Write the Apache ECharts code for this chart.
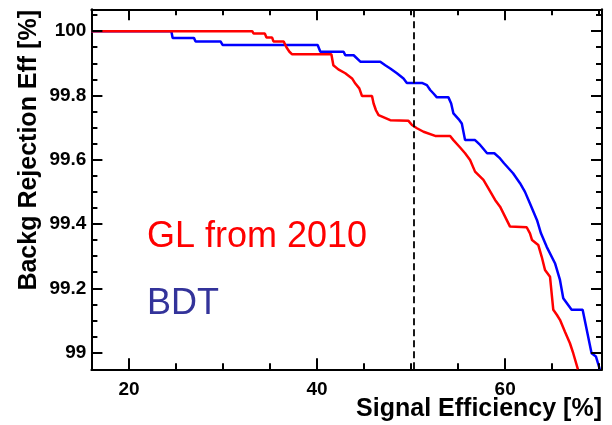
<!DOCTYPE html>
<html>
<head>
<meta charset="utf-8">
<script src="https://cdn.jsdelivr.net/npm/echarts@6/dist/echarts.min.js"></script>
<style>
  html, body { margin: 0; padding: 0; background: #fff; }
  #chart { width: 612px; height: 425px; }
</style>
</head>
<body>
<div id="chart"></div>
<script>
// Signal efficiency (%) vs background rejection efficiency (%) for two classifiers
const bdtX = [16, 24.50, 24.64, 26.90, 27.08, 29.73, 29.95, 40.06, 40.35, 42.82, 43.00, 43.89, 44.60, 46.72,
  47.25, 47.78, 48.49, 49.19, 49.55, 51.15, 51.68, 52.03, 52.38, 52.74, 53.97, 54.26, 54.50, 55.14, 55.39,
  55.74, 56.80, 57.34, 58.08, 58.85, 59.46, 59.88, 60.84, 61.58, 62.11, 62.64, 63.39, 63.81, 64.42, 65.30,
  65.83, 66.18, 67.07, 68.24, 69.19, 69.65, 70.07];
const bdtY = [100, 100, 99.979, 99.979, 99.968, 99.968, 99.957, 99.957, 99.936, 99.936, 99.925, 99.925, 99.905, 99.905,
  99.894, 99.884, 99.869, 99.853, 99.839, 99.839, 99.832, 99.817, 99.806, 99.794, 99.794, 99.775, 99.744, 99.723, 99.713,
  99.661, 99.661, 99.646, 99.620, 99.620, 99.604, 99.589, 99.558, 99.527, 99.500, 99.464, 99.412, 99.371, 99.329, 99.278,
  99.226, 99.169, 99.133, 99.133, 98.998, 98.988, 98.948];

const glX = [16, 33.10, 33.24, 34.44, 34.62, 35.22, 35.36, 36.45, 36.74, 37.06, 37.35, 41.52, 41.73, 42.26, 43.00,
  43.72, 44.07, 44.49, 44.78, 45.84, 46.01, 46.26, 46.54, 47.78, 49.72, 50.09, 50.62, 51.32, 52.56, 54.15, 54.50,
  55.21, 55.74, 56.27, 56.80, 57.69, 58.22, 58.93, 59.46, 59.99, 60.52, 62.29, 62.64, 62.86, 63.52, 63.89, 64.24,
  64.77, 65.12, 65.51, 65.83, 66.36, 66.89, 67.24, 67.74];
const glY = [100, 100, 99.993, 99.993, 99.980, 99.980, 99.968, 99.968, 99.950, 99.936, 99.928, 99.928, 99.894, 99.881, 99.869,
  99.853, 99.837, 99.822, 99.798, 99.798, 99.775, 99.754, 99.739, 99.723, 99.721, 99.708, 99.698, 99.687, 99.674, 99.674, 99.661,
  99.638, 99.620, 99.599, 99.563, 99.537, 99.511, 99.475, 99.454, 99.423, 99.392, 99.390, 99.371, 99.350, 99.335, 99.298, 99.257,
  99.236, 99.133, 99.117, 99.102, 99.065, 99.029, 98.998, 98.948];

// Reference cut at 50% signal efficiency
const cutX = 50.3;

// Axis ranges and tick positions
const xRange = [16, 70.3];
const yRange = [98.948, 100.068];
const xMajor = [20, 40, 60];
const xMinor = [25, 30, 35, 45, 50, 55, 65, 70];
const yMajor = [99, 99.2, 99.4, 99.6, 99.8, 100];
const yMinor = [99.05, 99.1, 99.15, 99.25, 99.3, 99.35, 99.45, 99.5, 99.55,
  99.65, 99.7, 99.75, 99.85, 99.9, 99.95, 100.05];
const xTickLabels = ['20', '40', '60'];
const yTickLabels = ['99', '99.2', '99.4', '99.6', '99.8', '100'];

const xTitle = 'Signal Efficiency [%]';
const yTitle = 'Backg Rejection Eff [%]';
const legendGL = 'GL from 2010';
const legendBDT = 'BDT';

const FONT = '"Liberation Sans", Arial, Helvetica, sans-serif';
const W = 612, H = 425;
const GRID = { left: 91.4, right: 10, top: 9.3, bottom: 55.7 };
const MAJOR_LEN = 11;   // px
const MINOR_LEN = 6;    // px

function zip(xs, ys) { return xs.map((x, i) => [x, ys[i]]); }

function labelFor(vals, labels) {
  return function (v) {
    const idx = vals.findIndex(m => Math.abs(m - v) < 1e-6);
    return idx >= 0 ? labels[idx] : '';
  };
}

// Tick marks as short segments in data space; pixel lengths converted with the plot size
const plotW = W - GRID.left - GRID.right;
const plotH = H - GRID.top - GRID.bottom;
const dxPerPx = (xRange[1] - xRange[0]) / plotW;
const dyPerPx = (yRange[1] - yRange[0]) / plotH;

function tickSegments() {
  const segs = [];
  const addX = (v, len) => {
    const d = len * dyPerPx;
    segs.push([{ coord: [v, yRange[0]] }, { coord: [v, yRange[0] + d] }]);
    segs.push([{ coord: [v, yRange[1]] }, { coord: [v, yRange[1] - d] }]);
  };
  const addY = (v, len) => {
    const d = len * dxPerPx;
    segs.push([{ coord: [xRange[0], v] }, { coord: [xRange[0] + d, v] }]);
    segs.push([{ coord: [xRange[1], v] }, { coord: [xRange[1] - d, v] }]);
  };
  xMajor.forEach(v => addX(v, MAJOR_LEN));
  xMinor.forEach(v => addX(v, MINOR_LEN));
  yMajor.forEach(v => addY(v, MAJOR_LEN));
  yMinor.forEach(v => addY(v, MINOR_LEN));
  return segs;
}

const frameLine = { show: true, onZero: false, lineStyle: { color: '#000', width: 2 } };

const chart = echarts.init(document.getElementById('chart'), null, { renderer: 'canvas' });

chart.setOption({
  animation: false,
  backgroundColor: '#fff',
  grid: { left: GRID.left, right: GRID.right, top: GRID.top, bottom: GRID.bottom, containLabel: false },
  xAxis: [
    {
      type: 'value', position: 'bottom', min: xRange[0], max: xRange[1],
      axisLine: frameLine,
      axisTick: { show: false },
      axisLabel: { show: true, customValues: xMajor, margin: 11,
        fontFamily: FONT, fontWeight: 'bold', fontSize: 19, color: '#000',
        formatter: labelFor(xMajor, xTickLabels) },
      splitLine: { show: false }
    },
    {
      type: 'value', position: 'top', min: xRange[0], max: xRange[1],
      axisLine: frameLine, axisTick: { show: false }, axisLabel: { show: false },
      splitLine: { show: false }
    }
  ],
  yAxis: [
    {
      type: 'value', position: 'left', min: yRange[0], max: yRange[1],
      axisLine: frameLine,
      axisTick: { show: false },
      axisLabel: { show: true, customValues: yMajor, margin: 5,
        fontFamily: FONT, fontWeight: 'bold', fontSize: 19, color: '#000',
        formatter: labelFor(yMajor, yTickLabels) },
      splitLine: { show: false }
    },
    {
      type: 'value', position: 'right', min: yRange[0], max: yRange[1],
      axisLine: frameLine, axisTick: { show: false }, axisLabel: { show: false },
      splitLine: { show: false }
    }
  ],
  series: [
    {
      name: legendBDT,
      type: 'line',
      data: zip(bdtX, bdtY),
      symbol: 'none',
      lineStyle: { color: '#0000ff', width: 2.5 },
      markLine: {
        silent: true,
        symbol: 'none',
        animation: false,
        label: { show: false },
        lineStyle: { color: '#000', width: 1.8, type: [7, 4] },
        data: [{ xAxis: cutX }]
      },
      z: 3
    },
    {
      name: legendGL,
      type: 'line',
      data: zip(glX, glY),
      symbol: 'none',
      lineStyle: { color: '#ff0000', width: 2.5 },
      markLine: {
        silent: true,
        symbol: 'none',
        animation: false,
        precision: 4,
        label: { show: false },
        emphasis: { disabled: true },
        lineStyle: { color: '#000', width: 2, type: 'solid', opacity: 1 },
        data: tickSegments()
      },
      z: 4
    }
  ],
  graphic: [
    {
      type: 'text', left: 147, top: 219,
      style: { text: legendGL, fill: '#ff0000', font: '36px ' + FONT }
    },
    {
      type: 'text', left: 147, top: 286,
      style: { text: legendBDT, fill: '#33339a', font: '36px ' + FONT }
    },
    {
      type: 'text', right: 10, top: 397,
      style: { text: xTitle, fill: '#000', font: 'bold 25px ' + FONT }
    },
    {
      type: 'text', x: 29.4, y: 10, rotation: Math.PI / 2,
      style: { text: yTitle, fill: '#000', font: 'bold 25px ' + FONT,
        align: 'right', verticalAlign: 'middle' }
    }
  ]
});
</script>
</body>
</html>
